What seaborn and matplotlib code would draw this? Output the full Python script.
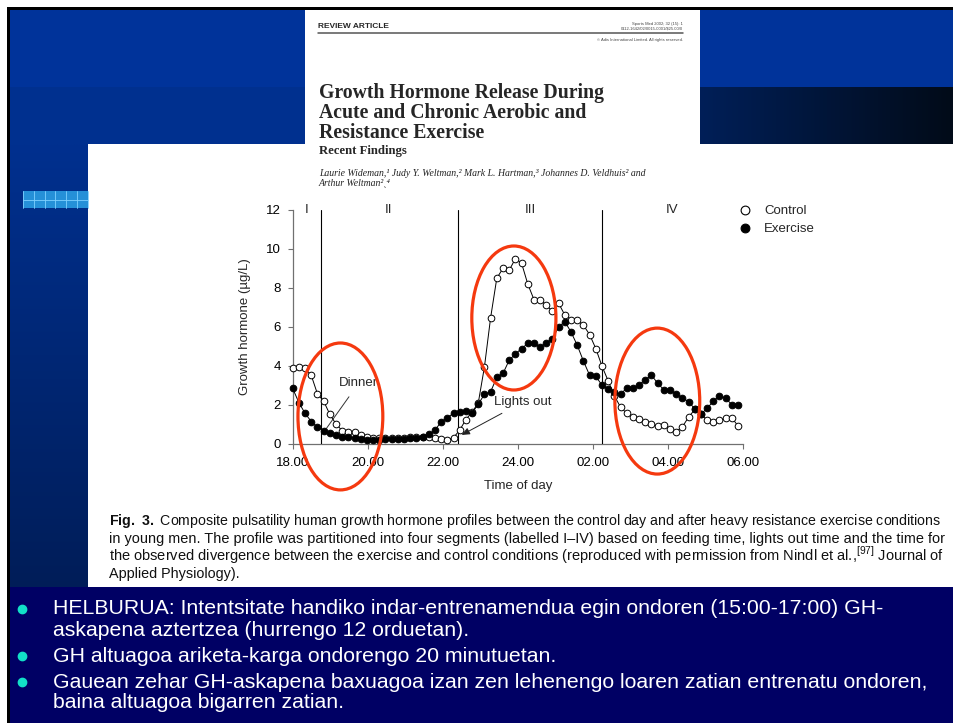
import numpy as np
import pandas as pd
import matplotlib
matplotlib.use("Agg")
import matplotlib.pyplot as plt
import matplotlib.colors as mcolors
import seaborn as sns
from matplotlib.patches import Rectangle, Ellipse
from matplotlib.lines import Line2D

# ---------------- data ----------------
# composite GH profile, sampled roughly every 10 min from 18.00 to ~06.00
sample_hours = np.linspace(18.0, 29.86, 73)

control_gh = [3.86, 3.94, 3.86, 3.5, 2.55, 2.18, 1.5, 1.0, 0.66, 0.57,
              0.57, 0.45, 0.35, 0.3, 0.28, 0.28, 0.28, 0.3, 0.3, 0.32,
              0.33, 0.35, 0.32, 0.3, 0.23, 0.18, 0.3, 0.69, 1.23, 1.62,
              2.08, 3.94, 6.47, 8.5, 9.0, 8.9, 9.5, 9.27, 8.2, 7.4,
              7.4, 7.1, 6.8, 7.2, 6.6, 6.37, 6.33, 6.08, 5.6, 4.88,
              3.98, 3.22, 2.45, 1.87, 1.55, 1.36, 1.25, 1.12, 0.99, 0.91,
              0.95, 0.76, 0.61, 0.86, 1.35, 1.75, 1.5, 1.2, 1.12, 1.2,
              1.29, 1.32, 0.9]

exercise_gh = [2.83, 2.1, 1.55, 1.13, 0.83, 0.66, 0.52, 0.44, 0.35, 0.32,
               0.27, 0.22, 0.2, 0.2, 0.2, 0.22, 0.22, 0.22, 0.25, 0.27,
               0.3, 0.35, 0.47, 0.68, 1.12, 1.32, 1.56, 1.6, 1.65, 1.57,
               2.02, 2.53, 2.66, 3.4, 3.6, 4.28, 4.6, 4.88, 5.14, 5.14,
               4.96, 5.18, 5.39, 6.0, 6.26, 5.73, 5.05, 4.24, 3.51, 3.45,
               3.0, 2.8, 2.63, 2.53, 2.85, 2.83, 3.02, 3.28, 3.51, 3.1,
               2.76, 2.76, 2.55, 2.35, 2.15, 1.78, 1.52, 1.8, 2.18, 2.45,
               2.32, 2.0, 2.0]

x_ticks = [18, 20, 22, 24, 26, 28, 30]
x_tick_labels = ["18.00", "20.00", "22.00", "24.00", "02.00", "04.00", "06.00"]
y_ticks = [0, 2, 4, 6, 8, 10, 12]

segment_bounds = [18.75, 22.4, 26.25]
segment_names = ["I", "II", "III", "IV"]
segment_label_x = [18.38, 20.56, 24.33, 28.1]

# highlighted windows: (centre time, centre GH, width h, height GH)
highlights = [(19.27, 1.39, 2.26, 7.55),
              (23.89, 6.45, 2.24, 7.40),
              (27.71, 2.18, 2.26, 7.50)]

caption_lines = [
    r"$\mathbf{Fig.\ 3.}$ Composite pulsatility human growth hormone profiles between the control day and after heavy resistance exercise conditions",
    "in young men. The profile was partitioned into four segments (labelled I\u2013IV) based on feeding time, lights out time and the time for",
    "the observed divergence between the exercise and control conditions (reproduced with permission from Nindl et al.,$^{\\mathrm{[97]}}$ Journal of",
    "Applied Physiology).",
]

bullets = [
    ["HELBURUA: Intentsitate handiko indar-entrenamendua egin ondoren (15:00-17:00) GH-",
     "askapena aztertzea (hurrengo 12 orduetan)."],
    ["GH altuagoa ariketa-karga ondorengo 20 minutuetan."],
    ["Gauean zehar GH-askapena baxuagoa izan zen lehenengo loaren zatian entrenatu ondoren,",
     "baina altuagoa bigarren zatian."],
]

# ---------------- figure ----------------
sns.set_style("ticks")
plt.rcParams["font.family"] = ["Liberation Sans", "DejaVu Sans"]
plt.rcParams["mathtext.fontset"] = "custom"
plt.rcParams["mathtext.rm"] = "Liberation Sans"
plt.rcParams["mathtext.bf"] = "Liberation Sans:bold"

W, H = 954, 723
fig = plt.figure(figsize=(W / 100, H / 100), dpi=100, facecolor="white")

bg = fig.add_axes([0, 0, 1, 1], zorder=0)
bg.axis("off")


def rect(x0, y0, x1, y1, color, z=1, **kw):
    bg.add_patch(Rectangle((x0, y0), x1 - x0, y1 - y0, facecolor=color,
                           edgecolor="none", zorder=z, **kw))


def gradient(x0, y0, x1, y1, c0, c1, horizontal=False, z=1):
    t = np.linspace(0, 1, 256)
    a = np.array(mcolors.to_rgb(c0))
    b = np.array(mcolors.to_rgb(c1))
    if horizontal:
        img = (a[None, None, :] * (1 - t)[None, :, None]
               + b[None, None, :] * t[None, :, None])
    else:
        img = (a[None, None, :] * (1 - t)[:, None, None]
               + b[None, None, :] * t[:, None, None])
    bg.imshow(img, extent=(x0, x1, y1, y0), aspect="auto", origin="upper",
              interpolation="bilinear", zorder=z)


# slide background
rect(10, 10, W, 87, "#00339a")
rect(10, 87, 305, 144, "#00308f")
gradient(700, 87, W, 144, "#001f58", "#020b18", horizontal=True)
gradient(10, 144, 88, 590, "#00308f", "#001d58")
rect(10, 587, W, H, "#000064")
rect(7, 7, W, 10, "black", z=3)
rect(7, 7, 10, H, "black", z=3)

# checkered accent bar
rect(23, 191, 88, 208, "#2590d8", z=2)
for gx in np.arange(23, 89, 10.8):
    bg.plot([gx, gx], [191, 208], color="#7fd0ff", lw=0.6, zorder=2.5)
bg.plot([23, 88], [199.5, 199.5], color="#7fd0ff", lw=0.6, zorder=2.5)

# white panels (article header and figure)
rect(305, 10, 700, 192, "white", z=2)
rect(88, 144, W, 587, "white", z=2)

# ---- article header ----
serif = ["Liberation Serif", "DejaVu Serif"]
bg.text(318, 27, "REVIEW ARTICLE", fontsize=6, fontweight="bold",
        va="center", ha="left", zorder=4)
bg.plot([318, 683], [33, 33], color="#555555", lw=1.1, zorder=4)
bg.text(683, 23.5, "Sports Med 2002; 32 (15): 1", fontsize=3, color="#444",
        ha="right", va="center", zorder=4)
bg.text(683, 29, "0112-1642/02/0015-0001/$25.00/0", fontsize=3, color="#444",
        ha="right", va="center", zorder=4)
bg.text(683, 40, "\u00a9 Adis International Limited. All rights reserved.",
        fontsize=3, color="#444", ha="right", va="center", zorder=4)
for yy, line in zip([93, 113, 133], ["Growth Hormone Release During",
                                     "Acute and Chronic Aerobic and",
                                     "Resistance Exercise"]):
    bg.text(319, yy, line, family=serif, fontsize=14.2, fontweight="bold",
            va="center", ha="left", zorder=4)
bg.text(319, 151, "Recent Findings", family=serif, fontsize=9.2,
        fontweight="bold", va="center", ha="left", zorder=4)
bg.text(319, 173, "Laurie Wideman,\u00b9 Judy Y. Weltman,\u00b2 Mark L. Hartman,\u00b3 "
        "Johannes D. Veldhuis\u00b2 and", family=serif, fontsize=7,
        style="italic", va="center", ha="left", zorder=4, color="#222")
bg.text(319, 183, "Arthur Weltman\u00b2\u02ce\u2074", family=serif, fontsize=7,
        style="italic", va="center", ha="left", zorder=4, color="#222")

# ---------------- chart ----------------
ax = fig.add_axes([292.7 / W, 1 - 443.5 / H, 450.6 / W, 233.5 / H], zorder=3)
ax.patch.set_alpha(0)

df = pd.DataFrame({"time": sample_hours, "Control": control_gh,
                   "Exercise": exercise_gh})

sns.lineplot(data=df, x="time", y="Control", ax=ax, color="black",
             linewidth=0.7, marker="o", markersize=4.8,
             markerfacecolor="white", markeredgecolor="black",
             markeredgewidth=0.7, clip_on=False, zorder=4)
sns.lineplot(data=df, x="time", y="Exercise", ax=ax, color="black",
             linewidth=0.7, marker="o", markersize=4.8,
             markerfacecolor="black", markeredgecolor="black",
             markeredgewidth=0.7, clip_on=False, zorder=5)

ax.set_xlim(18, 30)
ax.set_ylim(0, 12)
ax.set_xticks(x_ticks, x_tick_labels)
ax.set_yticks(y_ticks)
sns.despine(ax=ax)
for s in ["left", "bottom"]:
    ax.spines[s].set_color("#707070")
    ax.spines[s].set_linewidth(0.9)
ax.tick_params(direction="out", length=3.6, width=0.8, color="#707070",
               labelsize=9.5, labelcolor="black")
ax.tick_params(axis="y", pad=5)
ax.tick_params(axis="x", pad=6)
ax.set_xlabel("Time of day", fontsize=9.5)
ax.set_ylabel("Growth hormone (\u00b5g/L)", fontsize=9.5)
ax.xaxis.set_label_coords(0.5, -0.158)
ax.yaxis.set_label_coords(-0.092, 0.5)

for b in segment_bounds:
    ax.axvline(b, color="black", lw=0.8, zorder=3)
for xl, name in zip(segment_label_x, segment_names):
    ax.text(xl, 12, name, ha="center", va="center", fontsize=9.5)

ax.annotate("Dinner", xy=(18.9, 0.78), xytext=(19.76, 3.11),
            ha="center", va="center", fontsize=9.5,
            arrowprops=dict(arrowstyle="-", color="#333333", lw=0.7,
                            shrinkA=4, shrinkB=0))
ax.annotate("Lights out", xy=(22.5, 0.44), xytext=(24.13, 2.13),
            ha="center", va="center", fontsize=9.5,
            arrowprops=dict(arrowstyle="-|>,head_length=0.5,head_width=0.22",
                            color="#222222", lw=0.7, shrinkA=3, shrinkB=0))

for cx, cy, ew, eh in highlights:
    ax.add_patch(Ellipse((cx, cy), ew, eh, fill=False, edgecolor="#f5390f",
                         lw=2.3, clip_on=False, zorder=10))

handles = [Line2D([], [], ls="none", marker="o", ms=6.3, mfc="white",
                  mec="black", mew=0.8),
           Line2D([], [], ls="none", marker="o", ms=6.3, mfc="black",
                  mec="black", mew=0.8)]
ax.legend(handles, ["Control", "Exercise"], loc="upper left",
          bbox_to_anchor=(738.5 / W, 1 - 205 / H),
          bbox_transform=fig.transFigure, frameon=False, fontsize=9.5,
          borderaxespad=0, borderpad=0, handlelength=1.0,
          handletextpad=0.95, labelspacing=0.45)

# ---------------- caption: each full line sized to the column width ----------
renderer = fig.canvas.get_renderer()
cap_base = [525, 543, 561, 578]
cap_x0, cap_x1 = 109, 943
probe_size = 10.0
sizes = []
for line in caption_lines[:-1]:
    probe = bg.text(0, 0, line, fontsize=probe_size)
    wpx = probe.get_window_extent(renderer).width
    probe.remove()
    sizes.append(probe_size * (cap_x1 - cap_x0) / wpx)
sizes.append(float(np.mean(sizes)))
for line, yy, sz in zip(caption_lines, cap_base, sizes):
    bg.text(cap_x0, yy, line, fontsize=sz, va="baseline", ha="left",
            zorder=4, color="#111111")

# ---------------- bullet list ----------------
line_y = [[609, 630], [656], [682, 703]]
for lines, ys in zip(bullets, line_y):
    bg.plot(22, ys[0], "o", ms=6.0, color="#12e0c8", zorder=4)
    for text, yy in zip(lines, ys):
        bg.text(53, yy, text, fontsize=15.3, color="white", va="center",
                ha="left", zorder=4)

bg.set_xlim(0, W)
bg.set_ylim(H, 0)

fig.savefig("out.png", dpi=100, facecolor="white")
